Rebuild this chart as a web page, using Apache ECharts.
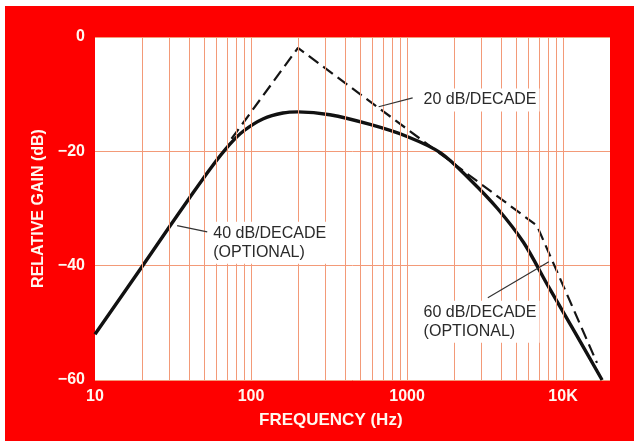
<!DOCTYPE html>
<html><head><meta charset="utf-8">
<script src="https://cdn.jsdelivr.net/npm/echarts@6/dist/echarts.min.js"></script>
<style>
html,body{margin:0;padding:0;background:#fff;}
#wrap{position:relative;width:634px;height:441px;overflow:hidden;}
#red{position:absolute;left:5px;top:6px;width:629px;height:435px;background:#fe0000;}
#c{position:absolute;left:0;top:0;width:634px;height:441px;}
</style>
</head><body>
<div id="wrap"><div id="red"></div><div id="c"></div></div>
<script>
// ---- data ----
const xTickLabels = { 10: '10', 100: '100', 1000: '1000', 10000: '10K' };
const yTickLabels = { 0: '0', '-20': '\u221220', '-40': '\u221240', '-60': '\u221260' };
const gridFreqs = [20, 30, 40, 50, 60, 70, 80, 90, 100,
                   200, 300, 400, 500, 600, 700, 800, 900, 1000,
                   2000, 3000, 4000, 5000, 6000, 7000, 8000, 9000, 10000];
const responseFreq = [10, 20, 30, 40, 55, 73, 90, 120, 160, 200, 320, 580, 1000, 1650, 2550, 3800, 5600, 8000, 12000, 17800];
const responseGain = [-52, -40.2, -33.2, -28.3, -23.0, -18.8, -16.4, -14.3, -13.3, -13.1, -13.6, -15.3, -17.4, -20.3, -25.0, -30.0, -36.0, -43.5, -51.8, -60];
const asymptoteFreq = [75, 200, 6800, 16500];
const asymptoteGain = [-17.8, -1.9, -33, -57];
const noteText = ['20 dB/DECADE', '40 dB/DECADE\n(OPTIONAL)', '60 dB/DECADE\n(OPTIONAL)'];
const noteFreq = [1222, 54.8, 1222];
const noteGain = [-11.0, -36.0, -49.8];
const arrowFrom = [[1087, -10.65], [52.4, -34.1], [3296, -45.6]];
const arrowTo = [[658, -12.2], [33.6, -33.0], [8110, -39.3]];
const arrowCurve = [0, 0, 0.3];

// ---- chart ----
const pair = (xs, ys) => xs.map((x, i) => [x, ys[i]]);
const labelFont = '"Liberation Sans", Arial, sans-serif';
const chart = echarts.init(document.getElementById('c'), null, { renderer: 'canvas' });
const gridColor = '#f39a78';

const option = {
  animation: false,
  backgroundColor: 'transparent',
  grid: { left: 95, top: 37, right: 24, bottom: 61, show: true, backgroundColor: '#ffffff', borderWidth: 0 },
  xAxis: {
    type: 'log', logBase: 10, min: 10, max: 20000, interval: 1,
    axisLine: { show: false }, axisTick: { show: false }, splitLine: { show: false },
    axisLabel: {
      color: '#fff8f0', fontFamily: labelFont, fontWeight: 'bold', fontSize: 16, margin: 9,
      formatter: v => xTickLabels[Math.round(v)] || ''
    }
  },
  yAxis: {
    type: 'value', min: -60, max: 0, interval: 20,
    name: 'RELATIVE GAIN (dB)', nameLocation: 'middle', nameGap: 47, nameRotate: 90,
    nameTextStyle: { color: '#fff8f0', fontFamily: labelFont, fontWeight: 'bold', fontSize: 16 },
    axisLine: { show: false }, axisTick: { show: false },
    splitLine: { show: true, lineStyle: { color: gridColor, width: 1 } },
    axisLabel: {
      color: '#fff8f0', fontFamily: labelFont, fontWeight: 'bold', fontSize: 16, margin: 10,
      formatter: v => yTickLabels[String(v)] || ''
    }
  },
  graphic: [{
    type: 'text', left: 259, top: 412, z: 10,
    style: { text: 'FREQUENCY (Hz)', fill: '#fff8f0', font: 'bold 17px ' + labelFont }
  }],
  series: [
    {
      name: 'grid', type: 'line', data: [], z: 1, silent: true,
      markLine: {
        silent: true, symbol: ['none', 'none'], label: { show: false },
        lineStyle: { color: gridColor, width: 1, type: 'solid' },
        data: gridFreqs.map(f => ({ xAxis: f }))
      }
    },
    {
      name: 'asymptote', type: 'line', data: pair(asymptoteFreq, asymptoteGain), z: 3,
      showSymbol: false, symbol: 'none',
      lineStyle: { color: '#141414', width: 2.2, type: [12, 6] }
    },
    {
      name: 'response', type: 'line', data: pair(responseFreq, responseGain), z: 4,
      showSymbol: false, symbol: 'none', smooth: 0.3,
      lineStyle: { color: '#111', width: 3.4 }
    },
    {
      name: 'arrows', type: 'line', data: [], z: 6, silent: true,
      markLine: {
        silent: true, symbol: ['none', 'arrow'], symbolSize: [0, 9], label: { show: false },
        lineStyle: { color: '#333', width: 1.2, type: 'solid' },
        data: arrowFrom.map((a, i) => [
          { coord: a, lineStyle: { curveness: arrowCurve[i] } },
          { coord: arrowTo[i] }
        ])
      }
    }
  ]
};
chart.setOption(option);

const notes = noteText.map((t, i) => {
  const p = chart.convertToPixel({ gridIndex: 0 }, [noteFreq[i], noteGain[i]]);
  return {
    type: 'text', x: p[0], y: p[1], z: 20,
    style: {
      text: t, fill: '#2a2a2a', font: '16px ' + labelFont, lineHeight: 19,
      align: 'left', verticalAlign: 'middle', backgroundColor: '#ffffff', padding: [2, 3]
    }
  };
});
chart.setOption({ graphic: option.graphic.concat(notes) });
</script>
</body></html>
